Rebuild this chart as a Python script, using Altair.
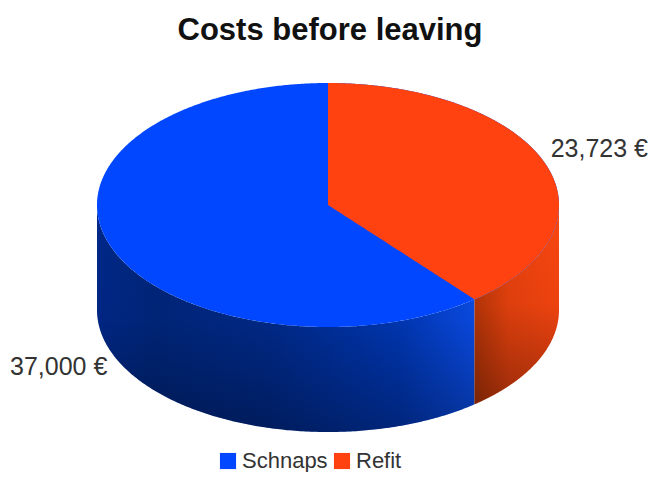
import numpy as np
import pandas as pd
import altair as alt

title = "Costs before leaving"
categories = ["Schnaps", "Refit"]
values = [37000, 23723]
value_labels = ["37,000 €", "23,723 €"]
colors = ["#0047FF", "#FF4210"]

# projection of the tilted disc, in units of the horizontal radius
RY = 122 / 231
DEPTH = 105 / 231
X_DOMAIN = [-320 / 231, 320 / 231]
Y_DOMAIN = [-267 / 231, 197 / 231]

# angle of the slice boundary, clockwise from 12 o'clock
theta = 2 * np.pi * values[1] / sum(values)
bx, by = np.sin(theta), RY * np.cos(theta)

def ell(x):
    return RY * np.sqrt(np.clip(1 - x ** 2, 0, 1))

def xs(a, b, n=200):
    t0, t1 = np.arccos(a), np.arccos(b)
    return np.cos(np.linspace(t0, t1, n))

X = alt.X("x:Q", scale=alt.Scale(domain=X_DOMAIN, nice=False, zero=False), axis=None)
Y = alt.Y("y:Q", scale=alt.Scale(domain=Y_DOMAIN, nice=False, zero=False), axis=None)

def side(a, b):
    x = xs(a, b)
    return pd.DataFrame({"x": x, "y": -ell(x), "y2": -ell(x) - DEPTH})

def grad_h(stops):
    return alt.Gradient(gradient="linear", x1=0, x2=1, y1=0, y2=0,
                        stops=[alt.GradientStop(offset=o, color=c) for o, c in stops])

shade = alt.Gradient(gradient="linear", x1=0, x2=0, y1=0, y2=1, stops=[
    alt.GradientStop(offset=0, color="rgba(0,0,0,0)"),
    alt.GradientStop(offset=0.5, color="rgba(0,0,0,0.05)"),
    alt.GradientStop(offset=1, color="rgba(0,0,0,0.34)"),
])

def area_layer(df, fill):
    return alt.Chart(df).mark_area(fill=fill, stroke=None, opacity=1).encode(
        x=X, y=Y, y2="y2:Q")

blue_side = side(-1, bx)
red_side = side(bx, 1)

layers = [
    area_layer(blue_side, grad_h([(0, "#00288A"), (0.15, "#00267C"), (0.45, "#002A8C"),
                                  (0.8, "#0038B8"), (1, "#0A4CE8")])),
    area_layer(blue_side, shade),
    area_layer(red_side, grad_h([(0, "#B83608"), (0.4, "#E8420E"), (1, "#FA4610")])),
    area_layer(red_side, shade),
]

# top faces
x_all = xs(-1, 1, 400)
top_blue = pd.DataFrame({"x": x_all, "y": ell(x_all), "y2": -ell(x_all), "name": categories[0]})
x_red = xs(0, 1, 300)
low = np.maximum(-ell(x_red), by / bx * x_red)
top_red = pd.DataFrame({"x": x_red, "y": ell(x_red), "y2": low, "name": categories[1]})
top = pd.concat([top_blue, top_red], ignore_index=True)

faces = alt.Chart(top).mark_area(opacity=1).encode(
    x=X, y=Y, y2="y2:Q",
    color=alt.Color("name:N",
                    scale=alt.Scale(domain=categories, range=colors),
                    sort=categories,
                    legend=alt.Legend(title=None, orient="none", direction="horizontal",
                                      legendX=209, legendY=442, symbolType="square",
                                      symbolSize=260, labelFont="Liberation Sans",
                                      labelFontSize=22, labelColor="#333333",
                                      columnPadding=3, symbolStrokeWidth=0, labelOffset=3,
                                      symbolOpacity=1)),
)
layers.append(faces)

label_font = dict(font="Liberation Sans", fontSize=25, color="#333333", baseline="middle")
layers.append(alt.Chart(pd.DataFrame({"t": [value_labels[0]]})).mark_text(align="left", **label_font)
              .encode(text="t:N", x=alt.value(2), y=alt.value(359)))
layers.append(alt.Chart(pd.DataFrame({"t": [value_labels[1]]})).mark_text(align="right", **label_font)
              .encode(text="t:N", x=alt.value(640), y=alt.value(141)))
layers.append(alt.Chart(pd.DataFrame({"t": [title]})).mark_text(
    font="Liberation Sans", fontSize=31, fontWeight="bold", color="#111111", baseline="middle")
    .encode(text="t:N", x=alt.value(322), y=alt.value(23)))

chart = alt.layer(*layers).properties(
    width=640, height=464, padding=0, background="white",
    autosize=alt.AutoSizeParams(type="none"),
).configure_view(stroke=None)

chart.save("out.html", embed_options={"renderer": "svg", "actions": False})
